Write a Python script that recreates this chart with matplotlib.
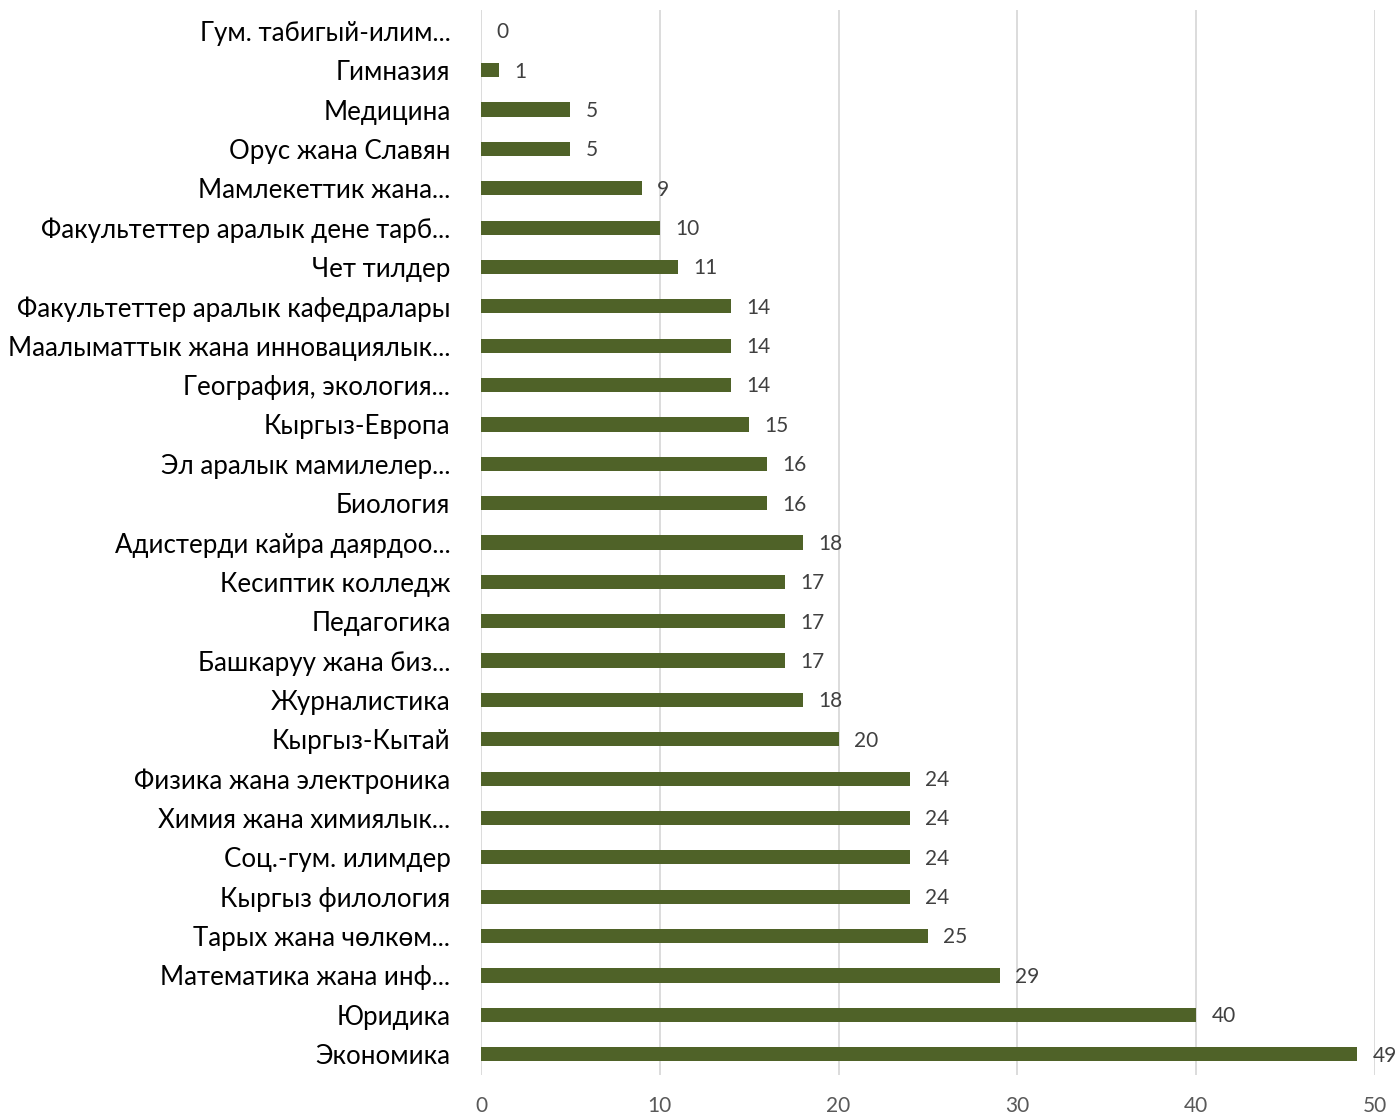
import matplotlib
matplotlib.use("Agg")
import matplotlib.pyplot as plt

# categories listed bottom to top
categories = [
    "Экономика", "Юридика", "Математика жана инф...", "Тарых жана чөлкөм...",
    "Кыргыз филология", "Соц.-гум. илимдер", "Химия жана химиялык...",
    "Физика жана электроника", "Кыргыз-Кытай", "Журналистика",
    "Башкаруу жана биз...", "Педагогика", "Кесиптик колледж",
    "Адистерди кайра даярдоо...", "Биология", "Эл аралык мамилелер...",
    "Кыргыз-Европа", "География, экология...", "Маалыматтык жана инновациялык...",
    "Факультеттер аралык кафедралары", "Чет тилдер",
    "Факультеттер аралык дене тарб...", "Мамлекеттик жана...",
    "Орус жана Славян", "Медицина", "Гимназия", "Гум. табигый-илим...",
]
values = [49, 40, 29, 25, 24, 24, 24, 24, 20, 18, 17, 17, 17, 18, 16, 16,
          15, 14, 14, 14, 11, 10, 9, 5, 5, 1, 0]
x_ticks = [0, 10, 20, 30, 40, 50]

plt.rcParams["font.family"] = ["Lato", "DejaVu Sans"]

fig = plt.figure(figsize=(14, 11.15), dpi=100)
ax = fig.add_axes([481 / 1400, 40 / 1115, (1375 - 481) / 1400, 1065 / 1115])

pos = list(range(len(categories)))
ax.barh(pos, values, height=0.36, color="#4F6228", zorder=3)

for p, v in zip(pos, values):
    ax.annotate(str(v), (v, p), xytext=(11, -1), textcoords="offset points",
                va="center", ha="left", fontsize=15, color="#404040")

ax.set_xlim(0, 50)
ax.set_ylim(-0.53, len(categories) - 0.47)
ax.set_xticks(x_ticks)
ax.set_yticks(pos)
ax.set_yticklabels(categories, fontsize=18.6, color="#000000")
ax.tick_params(axis="y", length=0, pad=22)
ax.tick_params(axis="x", length=0, pad=15, labelsize=15, labelcolor="#595959")
ax.grid(axis="x", color="#D9D9D9", linewidth=1.3, zorder=0)
for s in ax.spines.values():
    s.set_visible(False)

fig.savefig("out.png", dpi=100)
